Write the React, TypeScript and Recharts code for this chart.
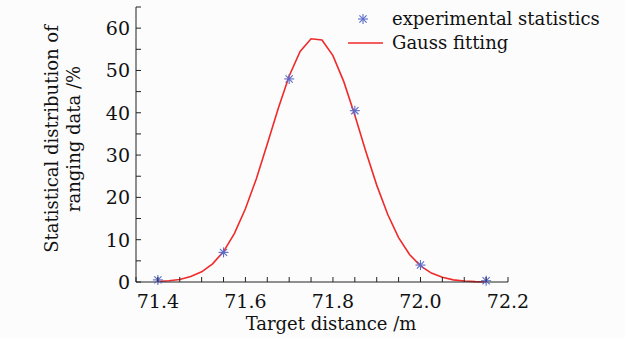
import React from 'react';
import { ComposedChart, Line, Scatter, XAxis, YAxis } from 'recharts';

// measured points (target distance in m, share in %)
const expX = [71.4, 71.55, 71.7, 71.85, 72.0, 72.15];
const expY = [0.5, 7, 48, 40.5, 4, 0.3];

// Gauss fitting curve, read at 0.025 m steps
const fitX = [
  71.4, 71.425, 71.45, 71.475, 71.5, 71.525, 71.55, 71.575, 71.6, 71.625, 71.65,
  71.675, 71.7, 71.725, 71.75, 71.775, 71.8, 71.825, 71.85, 71.875, 71.9, 71.925,
  71.95, 71.975, 72.0, 72.025, 72.05, 72.075, 72.1, 72.125, 72.15,
];
const fitY = [
  0.1, 0.3, 0.6, 1.3, 2.4, 4.3, 7.2, 11.5, 17.3, 24.4, 32.6,
  41.0, 48.7, 54.5, 57.5, 57.2, 53.5, 47.3, 39.4, 30.9, 22.9, 16.0,
  10.5, 6.5, 3.8, 2.1, 1.1, 0.5, 0.25, 0.1, 0.04,
];

const xTicks = [
  71.35, 71.4, 71.45, 71.5, 71.55, 71.6, 71.65, 71.7, 71.75, 71.8, 71.85, 71.9,
  71.95, 72.0, 72.05, 72.1, 72.15, 72.2,
];
const yTicks = [0, 5, 10, 15, 20, 25, 30, 35, 40, 45, 50, 55, 60, 65];

const expData = expX.map((x, i) => ({ x, y: expY[i] }));
const fitData = fitX.map((x, i) => ({ x, y: fitY[i] }));

const FONT = '"DejaVu Serif", serif';
const INK = '#222';
const RED = '#f02a2a';
const STAR = '#5b6cc9';

const Star = ({ cx, cy, r = 5 }: any) => {
  const d = r * 0.72;
  return (
    <g stroke={STAR} strokeWidth={1.1}>
      <line x1={cx} y1={cy - r} x2={cx} y2={cy + r} />
      <line x1={cx - r} y1={cy} x2={cx + r} y2={cy} />
      <line x1={cx - d} y1={cy - d} x2={cx + d} y2={cy + d} />
      <line x1={cx - d} y1={cy + d} x2={cx + d} y2={cy - d} />
    </g>
  );
};

const XTick = ({ x, y, payload }: any) => {
  const v = payload.value;
  const major = Math.abs(v * 5 - Math.round(v * 5)) < 1e-6;
  return (
    <g>
      <line x1={x} y1={y} x2={x} y2={y - 5} stroke={INK} />
      {major && (
        <text x={x} y={y + 26} textAnchor="middle" fontFamily={FONT} fontSize={19} fill="#111">
          {v.toFixed(1)}
        </text>
      )}
    </g>
  );
};

const YTick = ({ x, y, payload }: any) => {
  const v = payload.value;
  return (
    <g>
      <line x1={x} y1={y} x2={x + 5} y2={y} stroke={INK} />
      {v % 10 === 0 && (
        <text x={x - 6} y={y + 7} textAnchor="end" fontFamily={FONT} fontSize={19} fill="#111">
          {v}
        </text>
      )}
    </g>
  );
};

const YTitle = () => (
  <text
    transform="rotate(-90, 64, 139)"
    x={64}
    y={139}
    textAnchor="middle"
    fontFamily={FONT}
    fontSize={18}
    fill="#111"
  >
    <tspan x={64} dy={-6}>Statistical distribution of</tspan>
    <tspan x={64} dy={22}>ranging data /%</tspan>
  </text>
);

const XTitle = () => (
  <text x={331} y={330} textAnchor="middle" fontFamily={FONT} fontSize={18} fill="#111">
    Target distance /m
  </text>
);

const LegendBox = () => (
  <div
    style={{
      position: 'absolute',
      left: 348,
      top: 7,
      fontFamily: FONT,
      fontSize: 18,
      color: '#111',
      lineHeight: '24px',
    }}
  >
    <div style={{ display: 'flex', alignItems: 'center' }}>
      <svg width={44} height={24}>
        <Star cx={15} cy={12} r={5} />
      </svg>
      <span>experimental statistics</span>
    </div>
    <div style={{ display: 'flex', alignItems: 'center' }}>
      <svg width={44} height={24}>
        <line x1={0} y1={12} x2={35} y2={12} stroke={RED} strokeWidth={1.6} />
      </svg>
      <span>Gauss fitting</span>
    </div>
  </div>
);

export default function App() {
  return (
    <div style={{ position: 'absolute', left: 0, top: 0, width: 625, height: 338, background: '#fcfcfc' }}>
      <ComposedChart width={625} height={338} margin={{ top: 7, right: 117, left: 0, bottom: 0 }}>
        <XAxis
          dataKey="x"
          type="number"
          domain={[71.35, 72.2]}
          ticks={xTicks}
          interval={0}
          tickSize={0}
          tickMargin={0}
          tickLine={false}
          tick={<XTick />}
          height={56}
          stroke={INK}
          allowDuplicatedCategory={false}
          label={<XTitle />}
        />
        <YAxis
          type="number"
          domain={[0, 65]}
          ticks={yTicks}
          interval={0}
          tickSize={0}
          tickMargin={0}
          tickLine={false}
          tick={<YTick />}
          width={136}
          stroke={INK}
          label={<YTitle />}
        />
        <Line
          data={fitData}
          dataKey="y"
          type="linear"
          stroke={RED}
          strokeWidth={1.6}
          dot={false}
          isAnimationActive={false}
        />
        <Scatter
          data={expData}
          dataKey="y"
          shape={(p: any) => <Star cx={p.cx} cy={p.cy} r={5} />}
          isAnimationActive={false}
        />
      </ComposedChart>
      <LegendBox />
    </div>
  );
}
